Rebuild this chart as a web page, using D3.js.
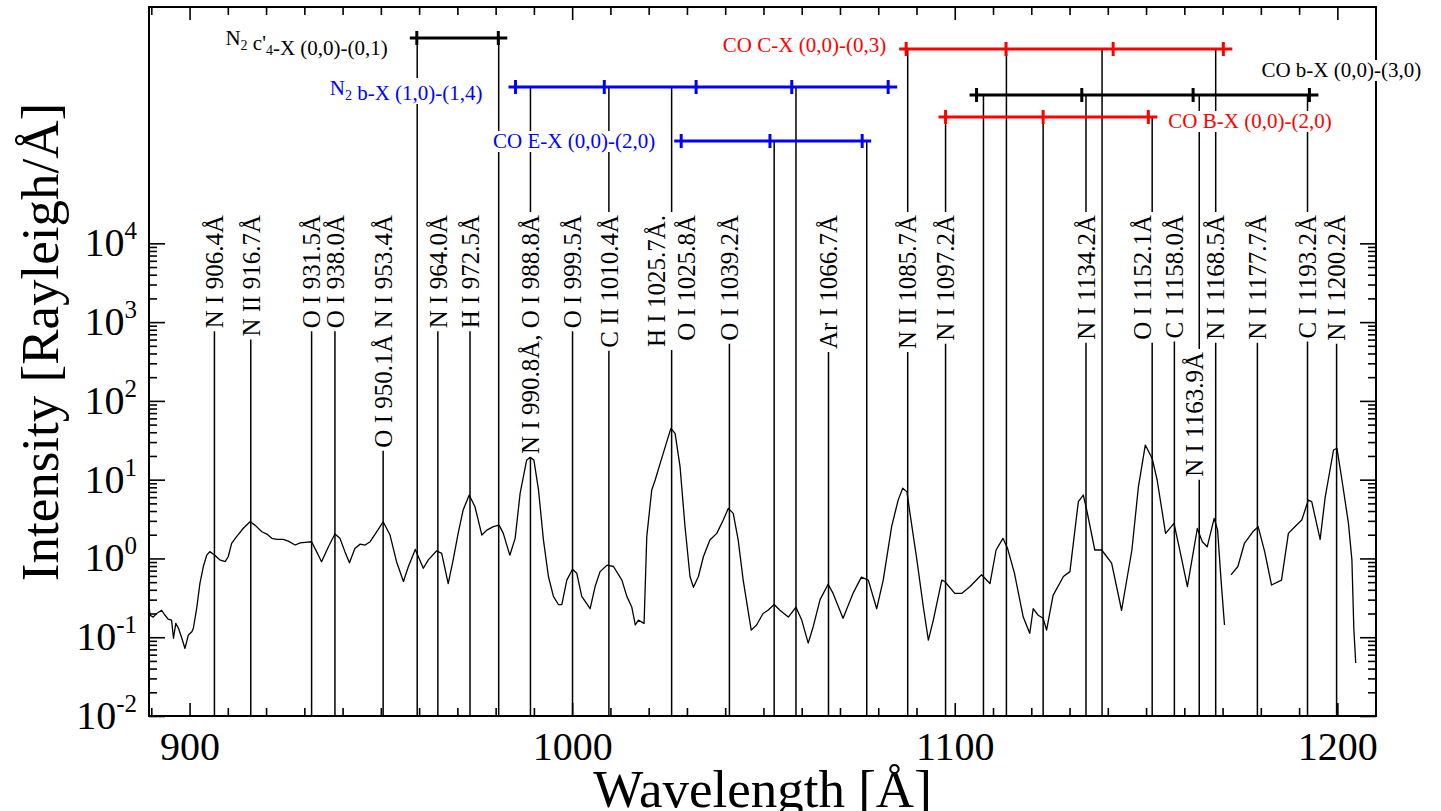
<!DOCTYPE html>
<html>
<head>
<meta charset="utf-8">
<script src="https://cdn.jsdelivr.net/npm/d3@7"></script>
<style>
  body { margin: 0; background: #fff; }
  svg { display: block; font-family: "Liberation Serif", "Times New Roman", serif; }
</style>
</head>
<body>
<div id="chart"></div>
<script>
// spectrum (Rayleigh/A), null = gap in the data
var specWl = [889.4, 889.7, 890.5, 891.4, 892.7, 893.6, 894.4, 895.3, 895.8, 896.4, 897.1, 897.9, 898.8, 899.7,
  900.6, 901.0, 901.9, 902.7, 903.6, 904.5, 905.3, 906.6, 907.9, 909.3, 910.1, 911.0, 912.3, 914.0, 915.8,
  917.1, 918.9, 920.2, 921.5, 922.8, 924.5, 925.8, 927.6, 928.9, 930.2, 931.9, 933.2, 934.5, 936.3, 938.0,
  939.3, 940.6, 941.8, 943.2, 944.6, 945.9, 947.2, 948.9, 950.6, 952.4, 954.1, 955.9, 957.2, 959.0, 959.8,
  961.1, 962.4, 964.6, 965.9, 967.6, 968.9, 970.2, 971.5, 973.1, 974.6, 976.4, 977.7, 979.4, 980.9, 982.0,
  983.7, 985.1, 986.4, 988.1, 989.0, 990.0, 991.2, 992.5, 993.8, 995.1, 996.4, 997.3, 998.6, 1000.1, 1001.2,
  1002.5, 1004.7, 1006.0, 1007.3, 1009.1, 1010.8, 1013.0, 1014.3, 1015.6, 1016.5, 1017.3, 1018.8, 1019.5,
  1020.8, 1021.7, 1023.0, 1024.6, 1025.8, 1026.9, 1028.2, 1029.5, 1030.8, 1031.7, 1033.0, 1034.3, 1036.0,
  1037.8, 1039.5, 1040.8, 1042.1, 1043.4, 1044.7, 1046.8, 1048.2, 1049.9, 1051.2, 1052.8, 1054.3, 1056.5,
  1058.5, 1060.0, 1061.7, 1063.0, 1064.8, 1066.9, 1068.2, 1070.8, 1073.4, 1075.6, 1077.4, 1079.6, 1081.3,
  1083.5, 1085.2, 1086.4, 1087.5, 1088.3, 1090.1, 1091.8, 1093.1, 1094.4, 1096.6, 1097.4, 1100.0, 1101.8,
  1104.0, 1107.0, 1109.2, 1110.8, 1112.6, 1113.8, 1115.6, 1117.9, 1119.6, 1120.5, 1121.8, 1123.1, 1124.0,
  1125.7, 1128.4, 1130.1, 1132.3, 1133.6, 1134.5, 1136.6, 1138.4, 1141.0, 1143.6, 1146.3, 1148.0, 1149.8,
  1151.6, 1152.9, 1155.1, 1157.3, 1159.0, 1160.8, 1163.4, 1164.7, 1166.0, 1167.8, 1168.7, 1169.6, 1170.5,
  1171.3, 1172.2, 1174.0, 1175.7, 1177.9, 1179.3, 1181.0, 1182.8, 1185.4, 1187.2, 1188.9, 1190.7, 1192.4,
  1193.3, 1195.5, 1196.8, 1199.0, 1199.9, 1201.2, 1202.9, 1203.8, 1204.3, 1204.8];
var specVal = [0.25, 0.19, 0.18, 0.20, 0.22, 0.19, 0.17, 0.165, 0.097, 0.15, 0.13, 0.10, 0.072, 0.107,
  0.117, 0.13, 0.24, 0.48, 0.79, 1.10, 1.22, 1.10, 0.96, 0.91, 1.05, 1.55, 1.89, 2.40, 2.92,
  2.65, 2.18, 2.04, 1.80, 1.75, 1.75, 1.66, 1.48, 1.58, 1.60, 1.63, 1.22, 0.91, 1.41, 2.04,
  1.80, 1.22, 0.88, 1.34, 1.52, 1.48, 1.63, 2.18, 2.92, 1.98, 0.91, 0.51, 0.79, 1.30, 1.05,
  0.75, 0.96, 1.25, 1.16, 0.48, 0.96, 2.08, 4.11, 6.38, 4.53, 1.98, 2.29, 2.53, 2.65, 2.08,
  1.10, 1.80, 6.7, 17.7, 19.2, 17.7, 7.4, 1.71, 0.59, 0.33, 0.26, 0.26, 0.53, 0.73, 0.65,
  0.33, 0.23, 0.44, 0.68, 0.82, 0.79, 0.53, 0.33, 0.24, 0.143, 0.165, 0.15, 1.89,
  7.4, 9.9, 16.1, 28.9, 44.8, 38.7, 14.6, 2.53, 0.59, 0.43, 0.59, 1.05, 1.71,
  2.08, 3.07, 4.32, 3.73, 1.71, 0.53, 0.123, 0.143, 0.20, 0.22, 0.26, 0.22, 0.18,
  0.24, 0.165, 0.084, 0.136, 0.30, 0.47, 0.36, 0.174, 0.36, 0.58, 0.53, 0.23, 0.53,
  2.53, 5.5, 7.8, 7.0, 3.73, 0.96, 0.24, 0.092, 0.165, 0.53, 0.51, 0.36, 0.36,
  0.44, 0.62, 0.48, 1.28, 1.80, 1.34, 0.65, 0.18, 0.112, 0.23, 0.19, 0.174, 0.123,
  0.34, 0.59, 0.68, 5.25, 6.38, 4.11, 1.28, 1.28, 0.87, 0.22, 1.28, 8.1, 27.5,
  18.6, 9.9, 2.08, 2.79, 1.16, 0.44, 2.40, 1.63, 1.41, 3.23, 2.29, 0.53, 0.143,
  null, 0.62, 0.79, 1.55, 2.18, 2.53, 1.22, 0.46, 0.53, 2.08, 2.53, 3.07, 5.5,
  5.25, 1.75, 5.9, 23.8, 25, 9.9, 2.79, 0.96, 0.13, 0.047];

// identified lines: label text and where the marker is drawn
var lineLabels = ["N I 906.4Å", "N II 916.7Å", "O I 931.5Å", "O I 938.0Å", "O I 950.1Å N I 953.4Å",
  "N I 964.0Å", "H I 972.5Å", "N I 990.8Å, O I 988.8Å", "O I 999.5Å", "C II 1010.4Å",
  "H I 1025.7Å.|O I 1025.8Å", "O I 1039.2Å", "Ar I 1066.7Å", "N II 1085.7Å", "N I 1097.2Å",
  "N I 1134.2Å", "O I 1152.1Å", "C I 1158.0Å", "N I 1163.9Å", "N I 1168.5Å", "N I 1177.7Å",
  "C I 1193.2Å", "N I 1200.2Å"];
var lineWl = [906.5, 916.0, 931.9, 938.0, 950.6, 964.9, 973.3, 989.1, 1000.1, 1009.6,
  1026.0, 1041.1, 1067.0, 1087.7, 1097.6, 1134.3, 1151.6, 1157.4, 1163.9, 1168.2, 1179.1,
  1192.2, 1199.8];
// band each line is tied to (-1 = none)
var lineBand = [-1, -1, -1, -1, -1, -1, -1, 1, -1, 1, 1, -1, -1, 3, 5, 4, 5, -1, 4, 3, -1, 4, -1];

// unlabelled markers hanging from the bands
var dropWl = [959.5, 980.8, 1052.8, 1058.5, 1077.0, 1107.5, 1113.5, 1123.1, 1138.5];
var dropBand = [0, 0, 2, 1, 2, 4, 3, 5, 3];

// molecular bands
var bandNames = ["N_2 c'_4-X (0,0)-(0,1)", "N_2 b-X (1,0)-(1,4)", "CO E-X (0,0)-(2,0)",
  "CO C-X (0,0)-(0,3)", "CO b-X (0,0)-(3,0)", "CO B-X (0,0)-(2,0)"];
var bandColors = ["#000000", "#0000ff", "#0000ff", "#ff0000", "#000000", "#ff0000"];
var bandTicks = [
  [959.4, 980.7],
  [985.2, 1008.4, 1032.4, 1057.4, 1082.6],
  [1028.5, 1051.7, 1075.8],
  [1087.3, 1113.4, 1141.4, 1170.2],
  [1105.7, 1133.2, 1162.3, 1192.7],
  [1097.6, 1123.1, 1150.6]
];

var xTicks = [900, 1000, 1100, 1200];
var yExps = [-2, -1, 0, 1, 2, 3, 4];

// ---- layout ----
var W = 1441, H = 811;
var plotL = 149, plotR = 1376, plotT = 7, plotB = 716;

var x = d3.scaleLinear().domain([889.4, 1210.1]).range([plotL, plotR]);
var y = d3.scaleLog().domain([1e-2, 1e7]).range([plotB, plotT]);

// band rows (pixel rows of the bars) and label placement
var bandY = [38, 87, 141, 49, 95, 117];
var bandLabelPos = [
  {side: "left", gap: 22, dy: 7},
  {side: "left", gap: 26, dy: 8},
  {side: "left", gap: 19, dy: 7},
  {side: "left", gap: 13, dy: 3},
  {side: "above", dx: -57, dy: -18},
  {side: "right", gap: 11, dy: 11}
];

var svg = d3.select("#chart").append("svg")
  .attr("width", W)
  .attr("height", H);

svg.append("rect").attr("width", W).attr("height", H).attr("fill", "#fff");

var gLines = svg.append("g").attr("stroke", "#000").attr("stroke-width", 1.5);
var gLabels = svg.append("g");
var gSpec = svg.append("g");
var gAxes = svg.append("g");
var gBands = svg.append("g");

function vline(g, wl, y1, y2) {
  g.append("line")
    .attr("x1", x(wl)).attr("x2", x(wl))
    .attr("y1", y1).attr("y2", y2);
}

// labelled lines
var labelTop = 215;
var labelNudge = {16: -10, 18: -5};
lineLabels.forEach(function(txt, i) {
  var parts = txt.split("|");
  var cx = x(lineWl[i]) + (labelNudge[i] || 0);
  var ltop = (i === 18) ? 352 : labelTop;
  var maxLen = 0;
  parts.forEach(function(p, k) {
    var px = cx + (k - (parts.length - 1) / 2) * 30;
    var t = gLabels.append("text")
      .attr("transform", "translate(" + px + "," + ltop + ") rotate(-90)")
      .attr("text-anchor", "end")
      .attr("dy", "0.35em")
      .attr("font-size", 25)
      .attr("fill", "#000")
      .text(p);
    maxLen = Math.max(maxLen, t.node().getComputedTextLength());
  });
  vline(gLines, lineWl[i], ltop + maxLen + 3, plotB);
  if (lineBand[i] >= 0) {
    vline(gLines, lineWl[i], bandY[lineBand[i]], ltop - 3);
  }
});

// unlabelled band markers
dropWl.forEach(function(wl, i) {
  vline(gLines, wl, bandY[dropBand[i]], plotB);
});

// spectrum
var specLine = d3.line()
  .defined(function(d) { return d[1] !== null; })
  .x(function(d) { return x(d[0]); })
  .y(function(d) { return y(d[1]); });

gSpec.append("path")
  .datum(specWl.map(function(w, i) { return [w, specVal[i]]; }))
  .attr("d", specLine)
  .attr("fill", "none")
  .attr("stroke", "#000")
  .attr("stroke-width", 1.3)
  .attr("stroke-linejoin", "round");

// axes: ticks point inward on all four sides, y ticks only up to 10^4
var xMinor = d3.range(890, 1211, 10).filter(function(v) { return v % 100 !== 0; });
var yMinor = [];
for (var e = -2; e < 4; e++) {
  for (var m = 2; m < 10; m++) yMinor.push(m * Math.pow(10, e));
}
var yMajor = yExps.map(function(e) { return Math.pow(10, e); });

function styleAxis(g) {
  g.select(".domain").remove();
  g.selectAll("line").attr("stroke", "#000").attr("stroke-width", 1.6);
}

gAxes.append("g").attr("transform", "translate(0," + plotB + ")")
  .call(d3.axisBottom(x).tickValues(xTicks).tickSize(-13).tickPadding(16).tickFormat(d3.format("d")))
  .call(styleAxis)
  .selectAll("text")
  .attr("font-family", "Liberation Serif, serif")
  .attr("font-size", 40)
  .attr("fill", "#000");
gAxes.append("g").attr("transform", "translate(0," + plotB + ")")
  .call(d3.axisBottom(x).tickValues(xMinor).tickSize(-8).tickFormat(""))
  .call(styleAxis);
gAxes.append("g").attr("transform", "translate(0," + plotT + ")")
  .call(d3.axisTop(x).tickValues(xTicks).tickSize(-13).tickFormat(""))
  .call(styleAxis);
gAxes.append("g").attr("transform", "translate(0," + plotT + ")")
  .call(d3.axisTop(x).tickValues(xMinor).tickSize(-8).tickFormat(""))
  .call(styleAxis);

gAxes.append("g").attr("transform", "translate(" + plotL + ",0)")
  .call(d3.axisLeft(y).tickValues(yMajor).tickSize(-16).tickFormat(""))
  .call(styleAxis);
gAxes.append("g").attr("transform", "translate(" + plotL + ",0)")
  .call(d3.axisLeft(y).tickValues(yMinor).tickSize(-8).tickFormat(""))
  .call(styleAxis);
gAxes.append("g").attr("transform", "translate(" + plotR + ",0)")
  .call(d3.axisRight(y).tickValues(yMajor).tickSize(-16).tickFormat(""))
  .call(styleAxis);
gAxes.append("g").attr("transform", "translate(" + plotR + ",0)")
  .call(d3.axisRight(y).tickValues(yMinor).tickSize(-8).tickFormat(""))
  .call(styleAxis);

gAxes.append("rect")
  .attr("x", plotL).attr("y", plotT)
  .attr("width", plotR - plotL).attr("height", plotB - plotT)
  .attr("fill", "none").attr("stroke", "#000").attr("stroke-width", 2);

// y tick labels 10^n
yExps.forEach(function(ex) {
  var t = gAxes.append("text")
    .attr("x", 137)
    .attr("y", y(Math.pow(10, ex)) + 13)
    .attr("text-anchor", "end")
    .attr("font-size", 40)
    .attr("fill", "#000");
  t.append("tspan").text("10");
  t.append("tspan").attr("dy", -17).attr("font-size", 25).text(ex);
});

// axis titles
gAxes.append("text")
  .attr("x", (plotL + plotR) / 2)
  .attr("y", 807)
  .attr("text-anchor", "middle")
  .attr("font-size", 53)
  .text("Wavelength [Å]");
gAxes.append("text")
  .attr("transform", "translate(58,342) rotate(-90)")
  .attr("text-anchor", "middle")
  .attr("font-size", 53)
  .text("Intensity [Rayleigh/Å]");

// bands: bar with cross marks and a label on a white box
function addName(t, name) {
  name.split(/(_\d)/).forEach(function(s) {
    if (!s) return;
    if (s[0] === "_") {
      t.append("tspan").attr("font-size", 14).attr("dy", 5).text(s.slice(1));
      t.append("tspan").attr("dy", -5).text("");
    } else {
      t.append("tspan").text(s);
    }
  });
}

bandNames.forEach(function(name, b) {
  var ticks = bandTicks[b];
  var x0 = x(ticks[0]) - 7, x1 = x(ticks[ticks.length - 1]) + 9;
  var by = bandY[b];
  var col = bandColors[b];
  var g = gBands.append("g");
  g.append("line")
    .attr("x1", x0).attr("x2", x1).attr("y1", by).attr("y2", by)
    .attr("stroke", col).attr("stroke-width", 3);
  g.selectAll(".tk").data(ticks).enter().append("line")
    .attr("x1", function(d) { return x(d); })
    .attr("x2", function(d) { return x(d); })
    .attr("y1", by - 7).attr("y2", by + 7)
    .attr("stroke", col).attr("stroke-width", 3);

  var pos = bandLabelPos[b];
  var box = g.append("rect").attr("fill", "#fff");
  var t = g.append("text").attr("font-size", 21).attr("fill", col);
  if (pos.side === "left") {
    t.attr("x", x0 - pos.gap).attr("y", by + pos.dy).attr("text-anchor", "end");
  } else if (pos.side === "right") {
    t.attr("x", x1 + pos.gap).attr("y", by + pos.dy).attr("text-anchor", "start");
  } else {
    t.attr("x", x1 + pos.dx).attr("y", by + pos.dy).attr("text-anchor", "start");
  }
  addName(t, name);
  var bb = t.node().getBBox();
  box.attr("x", bb.x - 2).attr("y", bb.y + 2).attr("width", bb.width + 4).attr("height", bb.height - 3);
});
</script>
</body>
</html>
